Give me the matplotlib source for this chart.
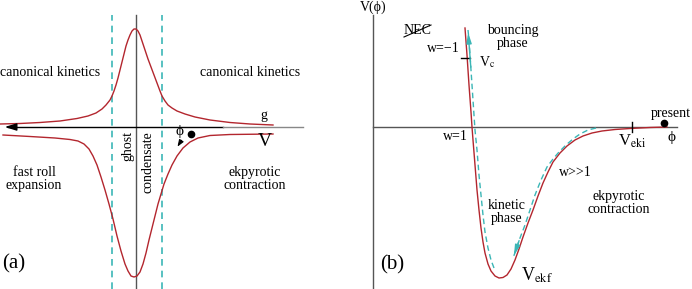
import numpy as np
import matplotlib.pyplot as plt

plt.rcParams['font.family'] = ['Liberation Serif', 'DejaVu Serif']
plt.rcParams['mathtext.fontset'] = 'stix'

RED = '#b3262e'
CYAN = '#3bb6b6'

# panel (a): curves g (upper) and V (lower), coords relative to axis crossing
g_x = [-136, -116, -96, -76, -59, -48, -40, -34, -30, -26, -24, -22, -20, -18, -16, -14, -12, -10,
       -8, -6, -4, -2, 0, 2, 4, 6, 9, 12, 15, 18, 21, 24, 26, 29, 32, 36, 41, 49, 59, 74, 94, 114, 137]
g_y = [3, 3.5, 4.5, 6, 8.5, 11, 14, 18, 22, 27, 31, 36, 42, 49, 57, 65, 73, 81,
       87, 92, 96, 98, 98, 96, 92, 86, 77, 68, 60, 52, 44, 36, 31, 26, 22, 19, 16, 13, 10, 7, 4.5, 3, 2]
v_x = [-133, -106, -81, -66, -58, -52, -47, -43, -39, -35, -31, -27, -23, -19, -15, -11, -8, -5, -2,
       1, 4, 7, 10, 13, 16, 19, 22, 25, 28, 32, 36, 41, 47, 54, 62, 74, 94, 137]
v_y = [-8, -9.5, -11, -12.5, -14, -17, -22, -29, -38, -50, -63, -77, -92, -109, -124, -137, -144, -149, -150,
       -149, -145, -137, -126, -113, -101, -89, -77, -67, -57, -47, -38, -29, -21, -15, -11, -8.5, -7.5, -7]
ghost_edges = [-24, 26]

# panel (b): potential V(phi) and the path of the field
pot_x = [92, 94, 96, 98, 99, 100, 102, 104, 106, 108, 110, 112, 115, 118, 122, 126, 130, 134, 138,
         142, 146, 150, 155, 160, 165, 170, 175, 180, 187, 194, 202, 210, 219, 229, 242, 257, 277, 294]
pot_y = [99, 72, 42, 15, 0, -13, -38, -63, -83, -101, -115, -126, -137, -144, -149, -151, -150.5, -148, -142,
         -133, -122, -110, -96, -83, -69, -56, -45, -35, -26, -19, -13, -9, -6, -4, -2.5, -1.5, -0.5, 0]
down_x = [223, 215, 207, 200, 193, 186, 180, 174, 168, 162, 157, 152, 147, 143, 140]
down_y = [-1, -3, -7, -12, -18, -25, -32, -40, -53, -68, -83, -98, -111, -123, -131]
up_x = [121, 118, 115, 112, 110, 108, 106, 104, 102, 100, 98, 96, 95]
up_y = [-141, -133, -121, -105, -88, -68, -48, -23, -3, 27, 57, 87, 97]

fig = plt.figure(figsize=(6.92, 2.89), dpi=100)
axa = fig.add_axes([0, 0, 0.5, 1])
axb = fig.add_axes([0.5, 0, 0.5, 1])
for ax in (axa, axb):
    ax.set_ylim(-162, 127)
    ax.axis('off')
axa.set_xlim(-136, 210)
axb.set_xlim(-27, 319)

# ---- panel (a)
axa.plot([0, 0], [-162, 112], color='#555555', lw=1.0)
axa.plot([-128, 87], [0, 0], color='black', lw=1.0)
axa.plot([87, 167], [0, 0], color='#888888', lw=1.0)
axa.annotate('', xy=(-134, 0), xytext=(-120, 0),
             arrowprops=dict(arrowstyle='-|>,head_length=0.7,head_width=0.22', color='black', lw=1.0))
for xe in ghost_edges:
    axa.plot([xe, xe], [-162, 112], color=CYAN, lw=1.2, ls=(0, (4, 3)))
axa.plot(g_x, g_y, color=RED, lw=1.0)
axa.plot(v_x, v_y, color=RED, lw=1.0)
axa.annotate('', xy=(40, -22), xytext=(47, -11),
             arrowprops=dict(arrowstyle='-|>,head_length=0.4,head_width=0.15', color='black', lw=0.8))
axa.plot([55], [-7], 'o', color='black', ms=4.5)

fs = 10
axa.text(44, -5, 'ϕ', fontsize=11, ha='center', va='center')
axa.text(128, 12, 'g', fontsize=fs, ha='center', va='center')
axa.text(129, -15, 'V', fontsize=14, ha='center', va='center')
axa.text(-86, 55, 'canonical kinetics', fontsize=fs, ha='center', va='center')
axa.text(114, 55, 'canonical kinetics', fontsize=fs, ha='center', va='center')
axa.text(-102, -52, 'fast roll\nexpansion', fontsize=fs, ha='center', va='center', linespacing=1.05)
axa.text(119, -52, 'ekpyrotic\ncontraction', fontsize=fs, ha='center', va='center', linespacing=1.05)
axa.text(-8, -19, 'ghost', fontsize=fs, ha='center', va='center', rotation=90)
axa.text(12, -35, 'condensate', fontsize=fs, ha='center', va='center', rotation=90)
axa.text(-122, -137, '(a)', fontsize=15, ha='center', va='center')

# ---- panel (b)
axb.plot([0, 0], [-162, 112], color='#555555', lw=1.0)
axb.plot([0, 304], [0, 0], color='#555555', lw=1.0)
axb.plot(pot_x, pot_y, color=RED, lw=1.0)
axb.plot(down_x, down_y, color=CYAN, lw=1.0, ls=(0, (4, 2.5)))
axb.plot(up_x, up_y, color=CYAN, lw=1.0, ls=(0, (4, 2.5)))
axb.annotate('', xy=(down_x[-1], down_y[-1]), xytext=(down_x[-3], down_y[-3]),
             arrowprops=dict(arrowstyle='-|>,head_length=0.6,head_width=0.15', color=CYAN, lw=1.0))
axb.annotate('', xy=(up_x[-1], up_y[-1]), xytext=(up_x[-3], up_y[-3]),
             arrowprops=dict(arrowstyle='-|>,head_length=0.6,head_width=0.15', color=CYAN, lw=1.0))
axb.plot([88, 97], [69, 69], color='black', lw=1.0)
axb.plot([259, 259], [-5, 5], color='black', lw=1.0)
axb.plot([291], [4], 'o', color='black', ms=4.5)
axb.plot([31, 58], [90, 102], color='black', lw=0.8)

axb.text(0, 120, 'V(ϕ)', fontsize=fs, ha='center', va='center')
axb.text(44, 96, 'NEC', fontsize=fs, ha='center', va='center')
axb.text(87, 78, 'w=−1', fontsize=fs, ha='right', va='center')
axb.text(106, 65, r'V$_{\rm c}$', fontsize=fs, ha='left', va='center')
axb.text(140, 90, 'bouncing\nphase', fontsize=fs, ha='center', va='center', linespacing=0.95)
axb.text(82, -10, 'w=1', fontsize=fs, ha='center', va='center')
axb.text(134, -85, 'kinetic\nphase', fontsize=fs, ha='center', va='center', linespacing=1.05)
axb.text(202, -46, 'w>>1', fontsize=fs, ha='center', va='center')
axb.text(246, -76, 'ekpyrotic\ncontraction', fontsize=fs, ha='center', va='center', linespacing=1.05)
axb.text(148, -148, r'V$_{\rm ekf}$', fontsize=13, ha='left', va='center')
axb.text(259, -14, r'V$_{\rm eki}$', fontsize=12, ha='center', va='center')
axb.text(298, 14, 'present', fontsize=fs, ha='center', va='center')
axb.text(299, -10, 'ϕ', fontsize=11, ha='center', va='center')
axb.text(19, -138, '(b)', fontsize=15, ha='center', va='center')

fig.savefig('out.png', dpi=100)
